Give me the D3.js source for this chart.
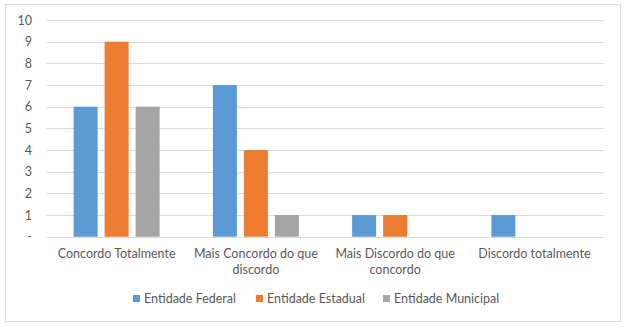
<!DOCTYPE html>
<html>
<head>
<meta charset="utf-8">
<script src="https://cdn.jsdelivr.net/npm/d3@7"></script>
<style>
  body { margin: 0; background: #fff; }
  text { font-family: Lato, "Open Sans", sans-serif; fill: #595959; }
</style>
</head>
<body>
<svg id="chart"></svg>
<script>
const categories = ["Concordo Totalmente", "Mais Concordo do que discordo", "Mais Discordo do que concordo", "Discordo totalmente"];
const seriesNames = ["Entidade Federal", "Entidade Estadual", "Entidade Municipal"];
const federal = [6, 7, 1, 1];
const estadual = [9, 4, 1, 0];
const municipal = [6, 1, 0, 0];
const yTicks = [0, 1, 2, 3, 4, 5, 6, 7, 8, 9, 10];

const width = 630, height = 327;
const colors = ["#5b9bd5", "#ed7d31", "#a5a5a5"];
const values = [federal, estadual, municipal];

const svg = d3.select("#chart").attr("width", width).attr("height", height);

// chart border
svg.append("rect")
    .attr("x", 5.5).attr("y", 4.5)
    .attr("width", 615).attr("height", 317)
    .attr("fill", "#fff")
    .attr("stroke", "#d9d9d9");

const plot = { left: 47, right: 604, top: 20, bottom: 236.7 };

const x = d3.scaleBand()
    .domain(categories)
    .range([plot.left, plot.right]);
const y = d3.scaleLinear()
    .domain([0, 10])
    .range([plot.bottom, plot.top]);

// gridlines
svg.append("g")
    .selectAll("line")
    .data(yTicks)
    .enter()
    .append("line")
    .attr("x1", plot.left).attr("x2", plot.right)
    .attr("y1", d => Math.round(y(d)) + 0.5)
    .attr("y2", d => Math.round(y(d)) + 0.5)
    .attr("stroke", "#d9d9d9")
    .attr("stroke-width", 1);

// y axis labels
const yAxis = d3.axisLeft(y)
    .tickValues(yTicks)
    .tickSize(0)
    .tickPadding(0)
    .tickFormat(d => d === 0 ? "-" : d);
const yG = svg.append("g")
    .attr("transform", `translate(32, 0)`)
    .call(yAxis);
yG.select(".domain").remove();
yG.selectAll("text")
    .attr("font-size", 12.5)
    .style("font-family", "Lato, 'Open Sans', sans-serif")
    .attr("fill", "#595959");

// bars
const barWidth = 24;
const step = 31;
for (let s = 0; s < values.length; s++) {
    svg.append("g")
        .selectAll("rect")
        .data(values[s].map((v, i) => ({ cat: categories[i], v })))
        .enter()
        .append("rect")
        .attr("x", d => x(d.cat) + x.bandwidth() / 2 + (s - 1) * step - barWidth / 2)
        .attr("y", d => y(d.v))
        .attr("width", barWidth)
        .attr("height", d => y(0) - y(d.v))
        .attr("fill", colors[s]);
}

// category labels, wrapped
const wrapWidth = 125;
categories.forEach(c => {
    const t = svg.append("text")
        .attr("x", x(c) + x.bandwidth() / 2)
        .attr("y", 258)
        .attr("text-anchor", "middle")
        .attr("font-size", 12.5);
    const words = c.split(" ");
    let line = [];
    let tspan = t.append("tspan").attr("x", x(c) + x.bandwidth() / 2).attr("dy", 0);
    let lineNo = 0;
    words.forEach(w => {
        line.push(w);
        tspan.text(line.join(" "));
        if (tspan.node().getComputedTextLength() > wrapWidth && line.length > 1) {
            line.pop();
            tspan.text(line.join(" "));
            line = [w];
            lineNo++;
            tspan = t.append("tspan")
                .attr("x", x(c) + x.bandwidth() / 2)
                .attr("dy", 16)
                .text(w);
        }
    });
});

// legend
const legendX = [133, 256, 383];
const legend = svg.append("g");
seriesNames.forEach((name, i) => {
    legend.append("rect")
        .attr("x", legendX[i]).attr("y", 295)
        .attr("width", 7).attr("height", 7)
        .attr("fill", colors[i]);
    legend.append("text")
        .attr("x", legendX[i] + 11)
        .attr("y", 303)
        .attr("font-size", 12.5)
        .text(name);
});
</script>
</body>
</html>
